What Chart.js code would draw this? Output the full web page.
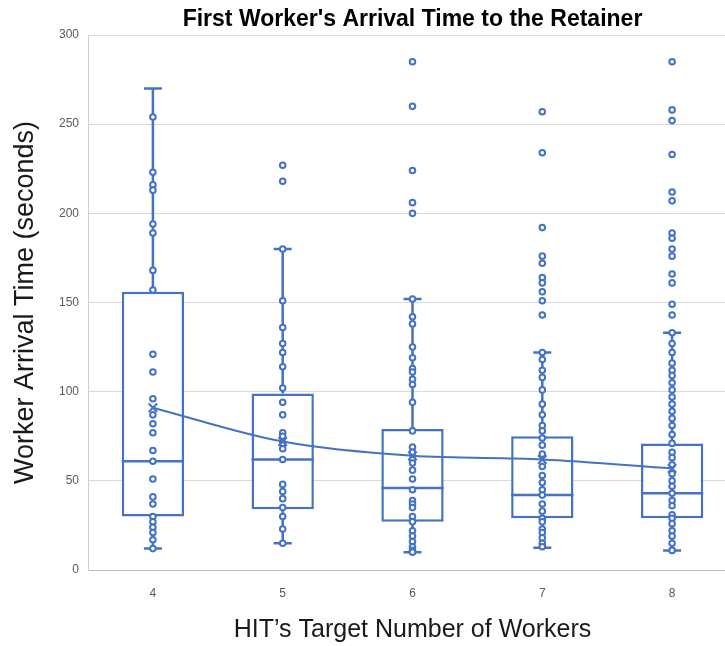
<!DOCTYPE html>
<html>
<head>
<meta charset="utf-8">
<script src="https://cdn.jsdelivr.net/npm/chart.js@4"></script>
<style>
  html, body { margin: 0; padding: 0; background: #fff; overflow: hidden; }
  #wrap { width: 745px; height: 646px; }
  #chart { width: 745px; height: 646px; }
</style>
</head>
<body>
<div id="wrap"><canvas id="chart" width="745" height="646"></canvas></div>
<script>
// Box plot data (seconds)
const categories = ['4', '5', '6', '7', '8'];
const q1 = [30, 34, 27, 29, 29];
const q3 = [156, 99, 79, 75, 71];
const medians = [61, 62, 46, 42, 43];
const whiskerLow = [12, 15, 10, 12.5, 11];
const whiskerHigh = [270, 180, 152, 122, 133];
const means = [91, 72, 64, 62, 57];

// individual observations per group
const points4 = [254, 223, 216, 213, 194, 189, 168, 157, 121, 111, 96, 87, 82, 77, 67, 61, 51, 41, 37, 30, 27, 24, 21, 17, 12];
const points5 = [227, 218, 180, 151, 136, 127, 122, 114, 102, 94, 87, 77, 75, 71, 68, 62, 48, 44, 40, 35, 30, 23, 15];
const points6 = [285, 260, 224, 206, 200, 152, 142, 138, 125, 119, 113, 111, 107, 104, 94, 78, 69, 66, 62, 60, 56, 51, 45, 39, 37, 35, 30, 27, 22, 19, 16, 13, 11, 10];
const points7 = [257, 234, 192, 176, 172, 164, 161, 156, 151, 143, 122, 118, 112, 108, 101, 93, 87, 81, 78, 74, 70, 65, 58, 53, 49, 45, 42, 37, 33, 29, 27, 23, 21, 18, 15, 13];
const points8 = [285, 258, 252, 233, 212, 207, 189, 186, 180, 176, 166, 161, 149, 143, 133, 127, 122, 116, 112, 109, 105, 101, 97, 93, 89, 85, 81, 76, 71, 66, 63, 59, 54, 50, 47, 43, 39, 36, 31, 29, 26, 22, 19, 15, 11];
const groups = [points4, points5, points6, points7, points8];

const yTicks = [0, 50, 100, 150, 200, 250, 300];

const BLUE = '#4472C4';
const FONT = "'Liberation Sans', Arial, sans-serif";

// flatten the points onto the category axis
const scatterData = [];
groups.forEach((vals, i) => {
    vals.forEach(v => scatterData.push({ x: categories[i], y: v }));
});

// median, whiskers and caps drawn right after the boxes
const boxParts = {
    id: 'boxParts',
    afterDatasetDraw(chart, args) {
        if (args.index !== 0) return;
        const ctx = chart.ctx;
        const y = chart.scales.y;
        const meta = chart.getDatasetMeta(0);
        const cap = 9;
        ctx.save();
        ctx.strokeStyle = BLUE;
        ctx.lineWidth = 2.5;
        ctx.beginPath();
        meta.data.forEach((bar, i) => {
            const cx = bar.x;
            const half = bar.width / 2;
            const yMed = y.getPixelForValue(medians[i]);
            const yHi = y.getPixelForValue(whiskerHigh[i]);
            const yLo = y.getPixelForValue(whiskerLow[i]);
            ctx.moveTo(cx - half, yMed);
            ctx.lineTo(cx + half, yMed);
            ctx.moveTo(cx, y.getPixelForValue(q3[i]));
            ctx.lineTo(cx, yHi);
            ctx.moveTo(cx - cap, yHi);
            ctx.lineTo(cx + cap, yHi);
            ctx.moveTo(cx, y.getPixelForValue(q1[i]));
            ctx.lineTo(cx, yLo);
            ctx.moveTo(cx - cap, yLo);
            ctx.lineTo(cx + cap, yLo);
        });
        ctx.stroke();
        ctx.restore();
    }
};

new Chart(document.getElementById('chart'), {
    type: 'bar',
    data: {
        labels: categories,
        datasets: [
            {
                type: 'bar',
                data: q1.map((v, i) => [v, q3[i]]),
                backgroundColor: '#ffffff',
                borderColor: BLUE,
                borderWidth: 2.5,
                borderSkipped: false,
                barPercentage: 0.48,
                categoryPercentage: 1,
                order: 3
            },
            {
                type: 'line',
                data: scatterData,
                showLine: false,
                pointRadius: 2.8,
                pointBorderWidth: 2,
                pointBackgroundColor: '#ffffff',
                pointBorderColor: BLUE,
                order: 2
            },
            {
                type: 'line',
                data: means,
                borderColor: BLUE,
                borderWidth: 2,
                cubicInterpolationMode: 'monotone',
                pointStyle: 'crossRot',
                pointRadius: 6,
                pointBorderWidth: 2,
                pointBorderColor: BLUE,
                fill: false,
                order: 1
            }
        ]
    },
    options: {
        responsive: false,
        animation: false,
        layout: { padding: 0 },
        plugins: {
            legend: { display: false },
            tooltip: { enabled: false },
            title: {
                display: true,
                text: "First Worker's Arrival Time to the Retainer",
                color: '#000',
                fullSize: false,
                font: { family: FONT, size: 23, weight: 'bold', lineHeight: 1.2 },
                padding: { top: 6, bottom: 1.4 }
            }
        },
        scales: {
            x: {
                offset: true,
                grid: { display: false, drawTicks: false },
                border: { display: true, color: '#bfbfbf', width: 1 },
                ticks: { color: '#595959', padding: 16, font: { family: FONT, size: 12 } },
                title: {
                    display: true,
                    text: 'HIT\u2019s Target Number of Workers',
                    color: '#1a1a1a',
                    font: { family: FONT, size: 25 },
                    padding: { top: 0, bottom: 1 }
                },
                afterFit(scale) { scale.height = 76; }
            },
            y: {
                min: 0,
                max: 300,
                grid: { color: '#d9d9d9', drawTicks: false },
                border: { display: true, color: '#d0d0d0' },
                afterBuildTicks(scale) { scale.ticks = yTicks.map(v => ({ value: v })); },
                ticks: { color: '#595959', padding: 9, font: { family: FONT, size: 12 } },
                title: {
                    display: true,
                    text: 'Worker Arrival Time (seconds)',
                    color: '#1a1a1a',
                    font: { family: FONT, size: 27 },
                    padding: { top: 9, bottom: 0 }
                },
                afterFit(scale) { scale.width = 88; }
            }
        }
    },
    plugins: [boxParts]
});
</script>
</body>
</html>
